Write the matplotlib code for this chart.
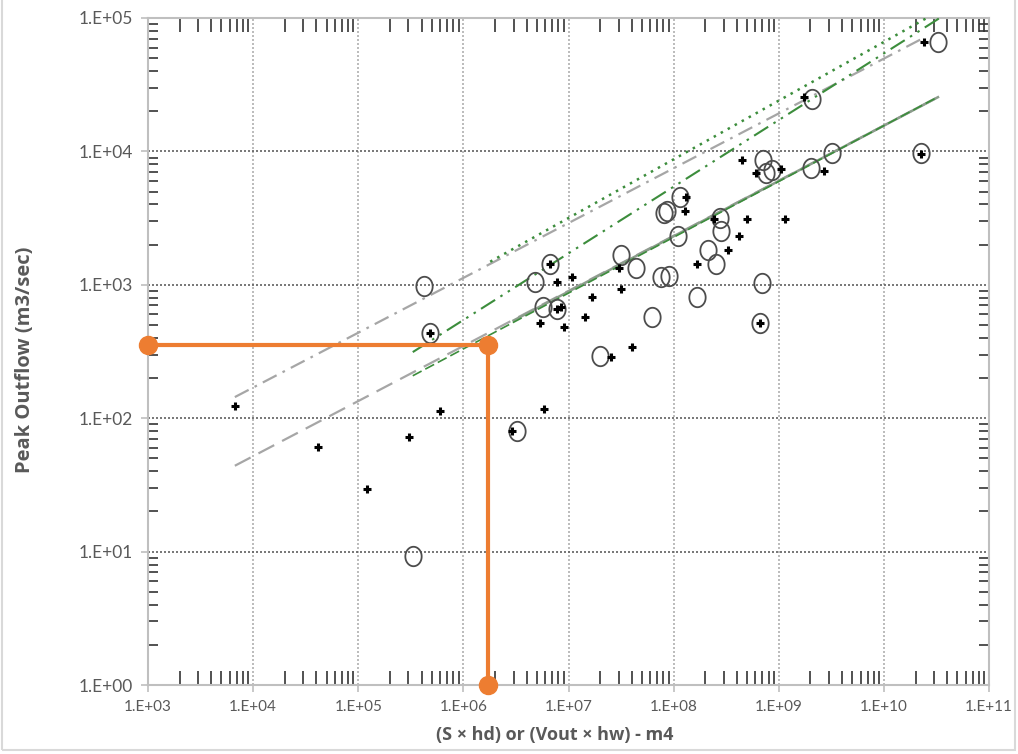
import numpy as np
import matplotlib
matplotlib.use("Agg")
import matplotlib.pyplot as plt
from matplotlib.path import Path
from matplotlib.ticker import FixedLocator, FuncFormatter, NullFormatter
from matplotlib.patches import Rectangle

plt.rcParams['font.family'] = ['Lato', 'DejaVu Sans']

# ---------------- data ----------------
plus_x = [6.71e3, 4.13e4, 1.21e5, 3.02e5, 5.94e5, 4.78e5, 2.87e6, 5.79e6, 6.61e6, 7.69e6,
          1.09e7, 7.69e6, 8.57e6, 5.31e6, 9.16e6, 1.66e7, 1.42e7, 3.19e7, 3.05e7, 2.51e7,
          4.06e7, 1.32e8, 1.29e8, 2.44e8, 1.68e8, 4.22e8, 3.31e8, 5.02e8, 6.67e8, 4.50e8,
          6.11e8, 1.06e9, 1.15e9, 1.75e9, 2.70e9, 2.41e10, 2.26e10]
plus_y = [123, 60.8, 29.4, 72.3, 113, 436, 80.2, 117, 1432, 1050,
          1143, 659, 682, 518, 483, 811, 574, 931, 1337, 288,
          342, 4550, 3573, 3112, 1432, 2323, 1824, 3112, 518, 8630,
          6887, 7380, 3112, 25600, 7130, 66100, 9500]

circle_x = [4.19e5, 4.78e5, 3.30e5, 3.27e6, 4.75e6, 6.61e6, 5.66e6, 7.69e6, 3.19e7, 4.43e7,
            6.28e7, 2.01e7, 7.66e7, 9.12e7, 1.11e8, 8.17e7, 8.73e7, 1.16e8, 2.78e8, 2.84e8,
            2.14e8, 2.55e8, 1.68e8, 6.97e8, 6.67e8, 7.13e8, 7.60e8, 8.67e8, 2.08e9, 3.27e10,
            2.26e10, 3.22e9, 2.04e9]
circle_y = [980, 436, 9.27, 80.2, 1050, 1432, 682, 659, 1671, 1337,
            574, 292, 1143, 1164, 2323, 3451, 3573, 4550, 3170, 2529,
            1824, 1432, 811, 1030, 518, 8630, 6887, 7244, 24700, 66100,
            9730, 9730, 7516]

# relation lines: endpoints (x, y)
env_gray_x = [6.7e3, 2.36e10]
env_gray_y = [144, 7.06e4]
earth_gray_x = [6.7e3, 3.27e10]
earth_gray_y = [44, 2.55e4]
solid_gray_x = [3.0e6, 3.27e10]
solid_gray_y = [540, 2.55e4]
green_dash_x = [3.3e5, 3.27e10]
green_dash_y = [208, 2.56e4]
green_dashdot_x = [3.3e5, 3.4e10]
green_dashdot_y = [313, 1.0e5]
green_dot_x = [1.8e6, 2.56e10]
green_dot_y = [1490, 1.0e5]

orange_x = [1e3, 1.7e6, 1.7e6]
orange_y = [355, 355, 1.0]

xticks = [1e3, 1e4, 1e5, 1e6, 1e7, 1e8, 1e9, 1e10, 1e11]
yticks = [1e0, 1e1, 1e2, 1e3, 1e4, 1e5]

# ---------------- figure ----------------
fig = plt.figure(figsize=(10.18, 7.54), dpi=100)
ax = fig.add_axes([148/1018, 1-685/754, (989-148)/1018, (685-18)/754])
ax.set_xscale('log')
ax.set_yscale('log')
ax.set_xlim(1e3, 1e11)
ax.set_ylim(1e0, 1e5)

gray = '#a6a6a6'
green = '#3c8d3c'
ax.plot(env_gray_x, env_gray_y, color=gray, lw=1.6, ls=(0, (7, 3, 1.2, 3)), zorder=3)
ax.plot(earth_gray_x, earth_gray_y, color=gray, lw=1.6, ls=(0, (8, 4)), zorder=3)
ax.plot(solid_gray_x, solid_gray_y, color='#8c9c8c', lw=1.8, zorder=3)
ax.plot(green_dash_x, green_dash_y, color=green, lw=1.2, ls=(0, (6, 2.5)), zorder=3)
ax.plot(green_dashdot_x, green_dashdot_y, color=green, lw=1.5, ls=(0, (8, 3, 1.2, 3, 1.2, 3)), zorder=3)
ax.plot(green_dot_x, green_dot_y, color=green, lw=1.8, ls=(0, (1, 2.2)), zorder=3)

# ellipse marker for circles
t = np.linspace(0, 2*np.pi, 60)
ell = Path(np.column_stack([0.84*np.cos(t), np.sin(t)]), closed=True)
ax.plot(circle_x, circle_y, ls='none', marker=ell, ms=14, mfc='none', mec='#4d4d4d', mew=1.3, zorder=4)
ax.plot(plus_x, plus_y, ls='none', marker='+', ms=5.5, mec='black', mew=2.2, zorder=5)

orange = '#ED7D31'
ax.plot(orange_x, orange_y, color=orange, lw=3, zorder=6, clip_on=False,
        marker='o', ms=13, mfc=orange, mec=orange)

# grid
for v in xticks[1:-1]:
    ax.axvline(v, color='#b0b0b0', lw=1.2, ls=(0, (1.2, 1.2)), zorder=1)
for v in yticks[1:-1]:
    ax.axhline(v, color='#606060', lw=1.2, ls=(0, (1.2, 1.2)), zorder=1)

# ticks
fmt = FuncFormatter(lambda v, p: "1.E+%02d" % int(round(np.log10(v))))
ax.xaxis.set_major_locator(FixedLocator(xticks))
ax.yaxis.set_major_locator(FixedLocator(yticks))
ax.xaxis.set_major_formatter(fmt)
ax.yaxis.set_major_formatter(fmt)
minors_x = [m*10.0**e for e in range(3, 11) for m in range(2, 10)]
minors_y = [m*10.0**e for e in range(0, 5) for m in range(2, 10)]
ax.xaxis.set_minor_locator(FixedLocator(minors_x))
ax.yaxis.set_minor_locator(FixedLocator(minors_y))
ax.xaxis.set_minor_formatter(NullFormatter())
ax.yaxis.set_minor_formatter(NullFormatter())

ax.tick_params(axis='x', which='major', direction='out', length=5, width=1.2, color='#bfbfbf',
               labelsize=11, labelcolor='#595959', pad=6, top=False)
ax.tick_params(axis='y', which='major', direction='out', length=5, width=1.2, color='#bfbfbf',
               labelsize=12.5, labelcolor='#595959', pad=6, right=False)
ax.tick_params(axis='x', which='minor', direction='in', length=10, width=1.2, color='#333333',
               top=True, bottom=True)
ax.tick_params(axis='y', which='minor', direction='in', length=7, width=1.2, color='#333333',
               left=True, right=True)

for s in ax.spines.values():
    s.set_color('#bfbfbf')
    s.set_linewidth(1.5)

ax.set_xlabel('(S \u00d7 hd) or (Vout \u00d7 hw) - m4', fontsize=13, fontweight='bold',
              color='#595959', family=['Open Sans', 'DejaVu Sans'], va='center', ha='center')
ax.xaxis.set_label_coords((555-148)/841, (685-735)/667)
ax.set_ylabel('Peak Outflow (m3/sec)', fontsize=14.5, fontweight='bold', color='#595959',
              family=['Open Sans', 'DejaVu Sans'], va='center', ha='center')
ax.yaxis.set_label_coords((25-148)/841, (685-360)/667)

fig.patches.append(Rectangle((2/1018, 4/754), 1013/1018, 760/754, transform=fig.transFigure,
                             fill=False, edgecolor='#d9d9d9', lw=1.5))

fig.savefig('out.png', dpi=100)
